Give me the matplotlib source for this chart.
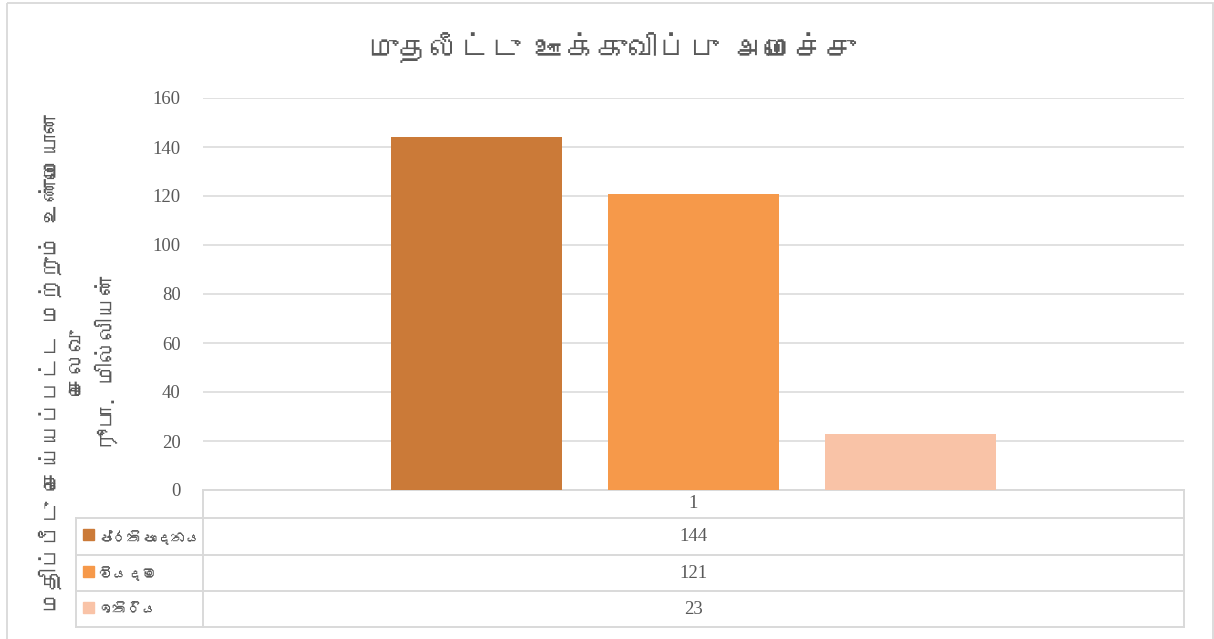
import matplotlib
matplotlib.use("Agg")
import matplotlib.pyplot as plt
from matplotlib import font_manager
from matplotlib.ft2font import FT2Font
from matplotlib.patches import Rectangle

# ---- data ----
title = "முதலீட்டு ஊக்குவிப்பு அமைச்சு"
ylabel_lines = ["மதிப்பீடு செய்யப்பட்ட மற்றும் உண்மையான", "செலவு", "ரூபா. மில்லியன்"]
category = "1"
series_names = ["ප්‍රතිපාදනය", "වියදම", "ඉතිරිය"]
series_values = [144, 121, 23]
series_colors = ["#CB7A38", "#F6994A", "#F9C3A7"]
y_ticks = [0, 20, 40, 60, 80, 100, 120, 140, 160]


def families_with(ch):
    cp = ord(ch)
    names = []
    for f in font_manager.fontManager.ttflist:
        try:
            if cp in FT2Font(f.fname).get_charmap() and f.name not in names:
                names.append(f.name)
        except Exception:
            pass
    return names


def plain(s):
    # matplotlib does no complex shaping, so joiner controls would show as boxes
    return s.replace("\u200d", "").replace("\u200c", "")


TAMIL = families_with("த") + ["DejaVu Sans"]
SINHALA = families_with("ප") + ["DejaVu Sans"]
SERIF = ["Liberation Serif", "DejaVu Serif"]

TEXT = "#595959"
GRID = "#D9D9D9"

W, H = 1214, 639
fig = plt.figure(figsize=(W / 100, H / 100), dpi=100)


def fx(px):
    return px / W


def fy(py):
    return 1 - py / H


# overlay in pixel coordinates for frame, table and labels
ov = fig.add_axes([0, 0, 1, 1], zorder=0)
ov.set_xlim(0, W)
ov.set_ylim(H, 0)
ov.axis("off")

ov.add_patch(Rectangle((7, 3), 1206, 660, fill=False, ec=GRID, lw=1.3))

# plotting area
ax_l, ax_r, ax_t, ax_b = 203, 1184, 98, 490
ax = fig.add_axes([fx(ax_l), fy(ax_b), fx(ax_r - ax_l), (ax_b - ax_t) / H], zorder=1)
ax.patch.set_alpha(0)
ax.set_xlim(-0.5, 0.5)
ax.set_ylim(0, 160)
ax.set_yticks(y_ticks)
ax.set_yticklabels([str(t) for t in y_ticks], family=SERIF, fontsize=13.5, color=TEXT)
ax.tick_params(axis="y", length=0, pad=16)
ax.set_xticks([])
for s in ax.spines.values():
    s.set_visible(False)
ax.grid(axis="y", color=GRID, lw=1.1)
ax.set_axisbelow(True)

step = 0.2214
width = 0.1745
offsets = [-step, 0, step]
for off, v, c in zip(offsets, series_values, series_colors):
    ax.bar(off, v, width=width, color=c, zorder=2)

# title
ov.text(612, 48, title, family=TAMIL, fontsize=22, color=TEXT, ha="center", va="center")

# y-axis label
for x, line in zip([50, 78, 106], ylabel_lines):
    ov.text(x, 362, line, family=TAMIL, fontsize=16, color=TEXT, rotation=90,
            ha="center", va="center", rotation_mode="anchor")

# data table
tl, tc, tr = 76, 203, 1184
rows_y = [490, 518, 555, 591, 627]
lw = 1.4
ov.plot([tc, tr], [rows_y[0]] * 2, color=GRID, lw=lw)
for yy in rows_y[1:]:
    ov.plot([tl, tr], [yy, yy], color=GRID, lw=lw)
ov.plot([tc, tc], [rows_y[0], rows_y[-1]], color=GRID, lw=lw)
ov.plot([tr, tr], [rows_y[0], rows_y[-1]], color=GRID, lw=lw)
ov.plot([tl, tl], [rows_y[1], rows_y[-1]], color=GRID, lw=lw)

mid_x = (tc + tr) / 2
ov.text(mid_x, (rows_y[0] + rows_y[1]) / 2, category, family=SERIF, fontsize=13.5,
        color=TEXT, ha="center", va="center")
for i, (name, v, c) in enumerate(zip(series_names, series_values, series_colors)):
    yc = (rows_y[i + 1] + rows_y[i + 2]) / 2
    ov.add_patch(Rectangle((83, yc - 7.5), 11, 11, color=c))
    ov.text(98, yc + 1, plain(name), family=SINHALA, fontsize=10.5, color=TEXT,
            ha="left", va="center")
    ov.text(mid_x, yc, str(v), family=SERIF, fontsize=13.5, color=TEXT, ha="center", va="center")

fig.savefig("out.png", dpi=100)
